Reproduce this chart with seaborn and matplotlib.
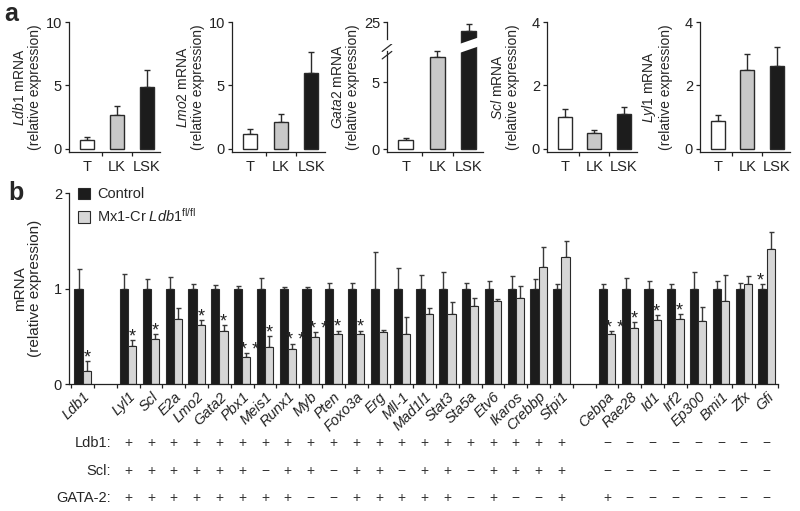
import numpy as np
import pandas as pd
import seaborn as sns
import matplotlib.pyplot as plt
import matplotlib.transforms as mtransforms
from matplotlib.patches import Polygon, Patch

sns.set_style("ticks")
plt.rcParams["font.family"] = ["Liberation Sans", "DejaVu Sans"]
plt.rcParams["mathtext.fontset"] = "custom"
plt.rcParams["mathtext.rm"] = "Liberation Sans"
plt.rcParams["mathtext.it"] = "Liberation Sans:italic"
plt.rcParams["axes.linewidth"] = 0.9
plt.rcParams["axes.edgecolor"] = "#222222"
plt.rcParams["xtick.color"] = "#222222"
plt.rcParams["ytick.color"] = "#222222"

# ---- panel a data ----
cells = ["T", "LK", "LSK"]
ldb1_a = [0.72, 2.65, 4.9]
ldb1_a_err = [0.26, 0.7, 1.3]
lmo2_a = [1.15, 2.15, 6.0]
lmo2_a_err = [0.4, 0.6, 1.6]
gata2_a = [0.65, 6.9, 24.3]
gata2_a_err = [0.2, 0.4, 0.55]
scl_a = [1.02, 0.5, 1.1]
scl_a_err = [0.23, 0.1, 0.23]
lyl1_a = [0.88, 2.5, 2.62]
lyl1_a_err = [0.2, 0.5, 0.58]

# ---- panel b data ----
genes = ["Ldb1", "Lyl1", "Scl", "E2a", "Lmo2", "Gata2", "Pbx1", "Meis1", "Runx1",
         "Myb", "Pten", "Foxo3a", "Erg", "Mll-1", "Mad1l1", "Stat3", "Sta5a", "Etv6",
         "Ikaros", "Crebbp", "Sfpi1", "Cebpa", "Rae28", "Id1", "Irf2", "Ep300",
         "Bmi1", "Zfx", "Gfi"]
order = ["Ldb1", " "] + genes[1:21] + ["  "] + genes[21:]
control = [1.0] * len(genes)
control_err = [0.20, 0.15, 0.10, 0.12, 0.05, 0.04, 0.03, 0.11, 0.02, 0.02, 0.06, 0.06,
               0.38, 0.21, 0.14, 0.17, 0.06, 0.08, 0.13, 0.10, 0.05, 0.05, 0.11, 0.08,
               0.05, 0.17, 0.08, 0.06, 0.05]
knockout = [0.14, 0.40, 0.47, 0.68, 0.62, 0.55, 0.28, 0.39, 0.37, 0.49, 0.52, 0.52,
            0.54, 0.52, 0.73, 0.73, 0.82, 0.87, 0.90, 1.22, 1.33, 0.52, 0.59, 0.67,
            0.68, 0.66, 0.87, 1.05, 1.41]
knockout_err = [0.10, 0.06, 0.05, 0.12, 0.05, 0.07, 0.04, 0.11, 0.05, 0.05, 0.04, 0.04,
                0.03, 0.18, 0.07, 0.13, 0.08, 0.02, 0.13, 0.21, 0.17, 0.03, 0.06, 0.05,
                0.05, 0.15, 0.27, 0.08, 0.18]
stars = ["*", "*", "*", "", "*", "*", "**", "*", "**", "**", "*", "*", "", "", "", "",
         "", "", "", "", "", "**", "*", "*", "*", "", "", "", "*"]
star_on_control = ["Gfi"]

row_names = ["Ldb1:", "Scl:", "GATA-2:"]
ldb1_row = ["+"] * 20 + ["−"] * 8
scl_row = ["+", "+", "+", "+", "+", "+", "−", "+", "+", "−", "+", "+", "−", "+", "+",
           "−", "+", "+", "+", "+"] + ["−"] * 8
gata2_row = ["+", "+", "+", "+", "+", "+", "+", "+", "−", "−", "+", "+", "+", "+", "+",
             "−", "+", "−", "−", "+"] + ["+"] + ["−"] * 7

BLACK = "#1c1c1c"
LIGHT = "#d6d6d6"
EDGE = "#2a2a2a"
cell_colors = ["white", "#c8c8c8", BLACK]

W, H = 800, 511
fig = plt.figure(figsize=(8, 5.11), dpi=100)


def px_axes(left, top, right, bottom):
    return fig.add_axes([left / W, (H - bottom) / H, (right - left) / W, (bottom - top) / H])


def small_bars(ax, vals, errs):
    sns.barplot(x=cells, y=vals, hue=cells, palette=cell_colors, width=0.47,
                edgecolor=EDGE, linewidth=1, legend=False, ax=ax)
    ax.errorbar(range(3), vals, yerr=[[0] * 3, errs], fmt="none", ecolor=EDGE,
                elinewidth=1, capsize=2.2, capthick=1, zorder=0.5)
    ax.set_xlim(-0.6, 2.45)
    ax.set_xticks([0, 1, 2])
    ax.set_xticklabels(cells, fontsize=10.5)
    ax.set_xticks([0.5, 1.5], minor=True)
    ax.tick_params(axis="x", which="major", length=0, pad=6)
    ax.tick_params(axis="x", which="minor", length=3, width=0.9)
    ax.tick_params(axis="y", length=3, width=0.9, labelsize=10.5, pad=2)
    ax.set_xlabel("")
    sns.despine(ax=ax)


def ylab(ax, gene, frac_x, frac_y=0.5):
    ax.set_ylabel(f"$\\it{{{gene}}}$ mRNA\n(relative expression)", fontsize=10,
                  linespacing=1.1)
    ax.yaxis.set_label_coords(frac_x, frac_y)


# Ldb1
ax = px_axes(69, 22, 160, 152)
small_bars(ax, ldb1_a, ldb1_a_err)
ax.set_ylim(-0.24, 10)
ax.set_yticks([0, 5, 10])
ylab(ax, "Ldb1", -27 / 91)

# Lmo2
ax = px_axes(232, 22, 325, 152)
small_bars(ax, lmo2_a, lmo2_a_err)
ax.set_ylim(-0.24, 10)
ax.set_yticks([0, 5, 10])
ylab(ax, "Lmo2", -27 / 93)

# Gata2 (broken axis)
ax_lo = px_axes(387, 45, 483, 152)
small_bars(ax_lo, gata2_a, gata2_a_err)
ax_lo.set_ylim(-0.22, 7.76)
ax_lo.set_yticks([0, 5])
ax_lo.spines["left"].set_bounds(-0.22, 7.3)
ylab(ax_lo, "Gata2", -27 / 96, (152 - 87) / 107)

ax_hi = px_axes(387, 22, 483, 44)
sns.barplot(x=cells, y=gata2_a, hue=cells, palette=cell_colors, width=0.47,
            edgecolor=EDGE, linewidth=1, legend=False, ax=ax_hi)
ax_hi.errorbar(range(3), gata2_a, yerr=[[0] * 3, gata2_a_err], fmt="none", ecolor=EDGE,
               elinewidth=1, capsize=2.2, capthick=1, zorder=0.5)
ax_hi.set_xlim(-0.6, 2.45)
ax_hi.set_ylim(23.36, 25)
ax_hi.set_yticks([25])
ax_hi.spines["left"].set_bounds(23.75, 25)
ax_hi.tick_params(axis="y", length=3, width=0.9, labelsize=10.5, pad=2)
ax_hi.set_xticks([])
ax_hi.set_xlabel("")
ax_hi.set_ylabel("")
sns.despine(ax=ax_hi, bottom=True)

# break marks on the spine
for yy in (0.905, 0.975):
    ax_lo.plot([-0.05, 0.05], [yy - 0.035, yy + 0.035], transform=ax_lo.transAxes,
               color=EDGE, lw=0.9, clip_on=False)
# slanted white cut across the tall bar
blend = mtransforms.blended_transform_factory(ax_lo.transData, fig.transFigure)
cut = Polygon([(1.7, (H - 53) / H), (2.3, (H - 46.5) / H), (2.3, (H - 37.5) / H),
               (1.7, (H - 44) / H)], closed=True, facecolor="white", edgecolor="none",
              transform=blend)
fig.add_artist(cut)

# Scl
ax = px_axes(547, 22, 637, 152)
small_bars(ax, scl_a, scl_a_err)
ax.set_ylim(-0.095, 4)
ax.set_yticks([0, 2, 4])
ylab(ax, "Scl", -27 / 90)

# Lyl1
ax = px_axes(700, 22, 790, 152)
small_bars(ax, lyl1_a, lyl1_a_err)
ax.set_ylim(-0.095, 4)
ax.set_yticks([0, 2, 4])
ylab(ax, "Lyl1", -27 / 90)

# ---- panel b ----
n = len(genes)
df = pd.DataFrame({
    "gene": genes * 2,
    "group": ["Control"] * n + ["Mx1"] * n,
    "value": control + knockout,
})
axb = px_axes(69, 193, 778, 384)
sns.barplot(data=df, x="gene", y="value", hue="group", order=order,
            hue_order=["Control", "Mx1"], palette=[BLACK, LIGHT], width=0.72,
            edgecolor=EDGE, linewidth=0.8, errorbar=None, legend=False, ax=axb)
xpos = np.array([order.index(g) for g in genes], dtype=float)
off = 0.18
axb.errorbar(xpos - off, control, yerr=[np.zeros(n), control_err], fmt="none",
             ecolor="#3a3a3a", elinewidth=1, capsize=1.8, capthick=1, zorder=0.5)
axb.errorbar(xpos + off, knockout, yerr=[np.zeros(n), knockout_err], fmt="none",
             ecolor="#3a3a3a", elinewidth=1, capsize=1.8, capthick=1, zorder=0.5)

for g, x, s, kv, ke, ce in zip(genes, xpos, stars, knockout, knockout_err, control_err):
    if not s:
        continue
    txt = "* *" if s == "**" else "*"
    if g in star_on_control:
        sx, sy = x - off - 0.12, 1.0 + ce
    else:
        sx, sy = x + off + (0.15 if s == "**" else 0.0), kv + ke
    axb.text(sx, sy - 0.015, txt, ha="center", va="baseline", fontsize=13, color="#222")

axb.set_xlim(-0.6, len(order) - 0.5)
axb.set_ylim(0, 2)
axb.set_yticks([0, 1, 2])
axb.set_xticks(xpos)
axb.set_xticklabels(genes, rotation=45, ha="right", va="top", rotation_mode="anchor",
                    fontstyle="italic", fontsize=10.5)
axb.set_xticks(np.arange(-0.5, len(order)), minor=True)
axb.tick_params(axis="x", which="major", length=0, pad=4)
axb.tick_params(axis="x", which="minor", length=3, width=0.9)
axb.tick_params(axis="y", length=3, width=0.9, labelsize=10.5, pad=2)
axb.set_xlabel("")
axb.set_ylabel("mRNA\n(relative expression)", fontsize=11, linespacing=1.1)
axb.yaxis.set_label_coords(-27 / 709, 0.5)
sns.despine(ax=axb)

handles = [Patch(facecolor=BLACK, edgecolor=EDGE, linewidth=0.8),
           Patch(facecolor=LIGHT, edgecolor=EDGE, linewidth=0.8)]
axb.legend(handles, ["Control", "Mx1-Cr $\\it{Ldb1}^{\\mathrm{fl/fl}}$"],
           loc="upper left", bbox_to_anchor=(0.005, 1.06), frameon=False,
           fontsize=10.5, handlelength=0.8, handleheight=0.8, handletextpad=0.5,
           labelspacing=0.4, borderaxespad=0)

# +/- rows
row_tf = mtransforms.blended_transform_factory(axb.transData, fig.transFigure)
for name, marks, ypix in zip(row_names, [ldb1_row, scl_row, gata2_row], [443, 471, 498]):
    fig.text(111 / W, (H - ypix) / H, name, ha="right", va="center", fontsize=10.5)
    for x, m in zip(xpos[1:], marks):
        axb.text(x, (H - ypix) / H, m, ha="center", va="center", fontsize=10,
                 color="#333", transform=row_tf)

fig.text(4 / W, 1 - 2 / H, "a", fontsize=18, fontweight="bold", va="top")
fig.text(8 / W, 1 - 181 / H, "b", fontsize=18, fontweight="bold", va="top")

fig.savefig("out.png", dpi=100)
